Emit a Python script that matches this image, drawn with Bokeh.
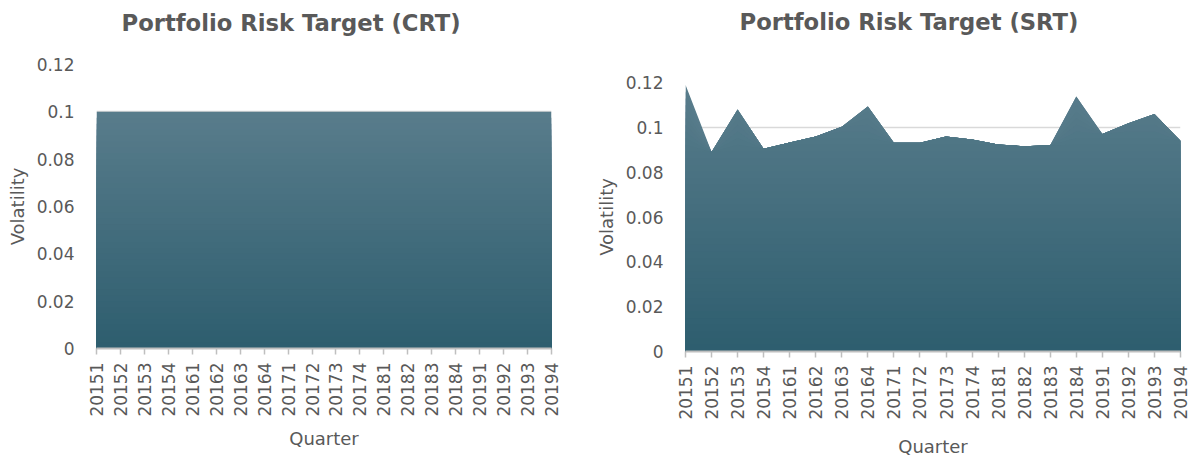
import math
import numpy as np
from bokeh.plotting import figure
from bokeh.layouts import row, column
from bokeh.models import Range1d, FixedTicker, CustomJSTickFormatter, Title
from bokeh.embed import file_html
from bokeh.resources import INLINE

quarters = ["20151", "20152", "20153", "20154", "20161", "20162", "20163", "20164",
            "20171", "20172", "20173", "20174", "20181", "20182", "20183", "20184",
            "20191", "20192", "20193", "20194"]
crt_values = [0.1] * 20
srt_values = [0.119, 0.089, 0.108, 0.0905, 0.0932, 0.0959, 0.1003, 0.1093,
              0.0931, 0.0931, 0.0959, 0.0946, 0.0923, 0.0916, 0.092, 0.1138,
              0.097, 0.1018, 0.106, 0.094]
y_ticks = [0, 0.02, 0.04, 0.06, 0.08, 0.1, 0.12]

FONT = "DejaVu Sans"
TEXT = "#595959"
TOP_COLOR = (0x58, 0x7c, 0x8b)
BOTTOM_COLOR = (0x2d, 0x5d, 0x6e)


def hexcol(c):
    return "#%02x%02x%02x" % tuple(int(round(v)) for v in c)


def make_chart(title, values, width, height, borders, title_gap, title_standoff,
               title_offset, xlabel_standoff, tick_size="17px"):
    xs = list(range(len(quarters)))
    p = figure(width=width, height=height, output_backend="svg", toolbar_location=None,
               title=None,
               x_range=Range1d(0, len(quarters) - 1), y_range=Range1d(0, 0.12),
               min_border_left=borders[0], min_border_right=borders[1],
               min_border_top=borders[2], min_border_bottom=borders[3])
    # spacer between frame and title, then the title itself
    p.add_layout(Title(text=" ", text_font_size="1px", standoff=title_gap,
                       text_color="white"), "above")
    p.add_layout(Title(text=title, text_font=FONT, text_font_size="22.7px",
                       text_font_style="bold", text_color=TEXT, align="left",
                       offset=title_offset, standoff=title_standoff), "above")
    p.outline_line_color = None
    p.background_fill_color = "white"
    p.border_fill_color = "white"

    # gradient-filled area built from stepped layers of the data
    vals = np.array(values, dtype=float)
    n = 40
    vmax = vals.max()
    for k in range(n, 0, -1):
        level = vmax * k / n
        t = k / n
        col = tuple(BOTTOM_COLOR[i] + (TOP_COLOR[i] - BOTTOM_COLOR[i]) * t for i in range(3))
        p.varea(x=xs, y1=np.zeros_like(vals), y2=np.minimum(vals, level),
                fill_color=hexcol(col))

    p.yaxis.ticker = FixedTicker(ticks=y_ticks)
    p.yaxis.formatter = CustomJSTickFormatter(code="return String(parseFloat(tick.toFixed(2)));")
    p.yaxis.axis_line_color = None
    p.yaxis.major_tick_line_color = None
    p.yaxis.minor_tick_line_color = None
    p.yaxis.major_label_text_font = FONT
    p.yaxis.major_label_text_font_size = tick_size
    p.yaxis.major_label_text_color = TEXT
    p.yaxis.major_label_standoff = 16
    p.yaxis.axis_label = "Volatility"
    p.yaxis.axis_label_text_font = FONT
    p.yaxis.axis_label_text_font_size = "18px"
    p.yaxis.axis_label_text_font_style = "normal"
    p.yaxis.axis_label_text_color = TEXT
    p.yaxis.axis_label_standoff = 6
    p.ygrid.ticker = FixedTicker(ticks=y_ticks)
    p.ygrid.grid_line_color = "#d9d9d9"
    p.ygrid.grid_line_width = 1.5
    p.xgrid.grid_line_color = None

    p.xaxis.ticker = FixedTicker(ticks=xs)
    p.xaxis.major_label_overrides = {i: q for i, q in enumerate(quarters)}
    p.xaxis.major_label_orientation = math.pi / 2
    p.xaxis.major_label_text_font = FONT
    p.xaxis.major_label_text_font_size = tick_size
    p.xaxis.major_label_text_color = TEXT
    p.xaxis.major_label_standoff = 8
    p.xaxis.axis_line_color = "#bfbfbf"
    p.xaxis.axis_line_width = 2
    p.xaxis.major_tick_line_color = "#bfbfbf"
    p.xaxis.major_tick_line_width = 1.5
    p.xaxis.major_tick_in = 0
    p.xaxis.major_tick_out = 6
    p.xaxis.minor_tick_line_color = None
    p.xaxis.axis_label = "Quarter"
    p.xaxis.axis_label_text_font = FONT
    p.xaxis.axis_label_text_font_size = "18px"
    p.xaxis.axis_label_text_font_style = "normal"
    p.xaxis.axis_label_text_color = TEXT
    p.xaxis.axis_label_standoff = xlabel_standoff
    return p


p1 = make_chart("Portfolio Risk Target (CRT)", crt_values, 583, 451,
                (96, 32, 64, 103), 22, 7, 25, 8)
p2 = make_chart("Portfolio Risk Target (SRT)", srt_values, 607, 459,
                (102, 10, 80, 108), 38, 13, 54, 13)

layout = row(column(p1), column(p2))
open("out.html", "w").write(file_html(layout, INLINE))
